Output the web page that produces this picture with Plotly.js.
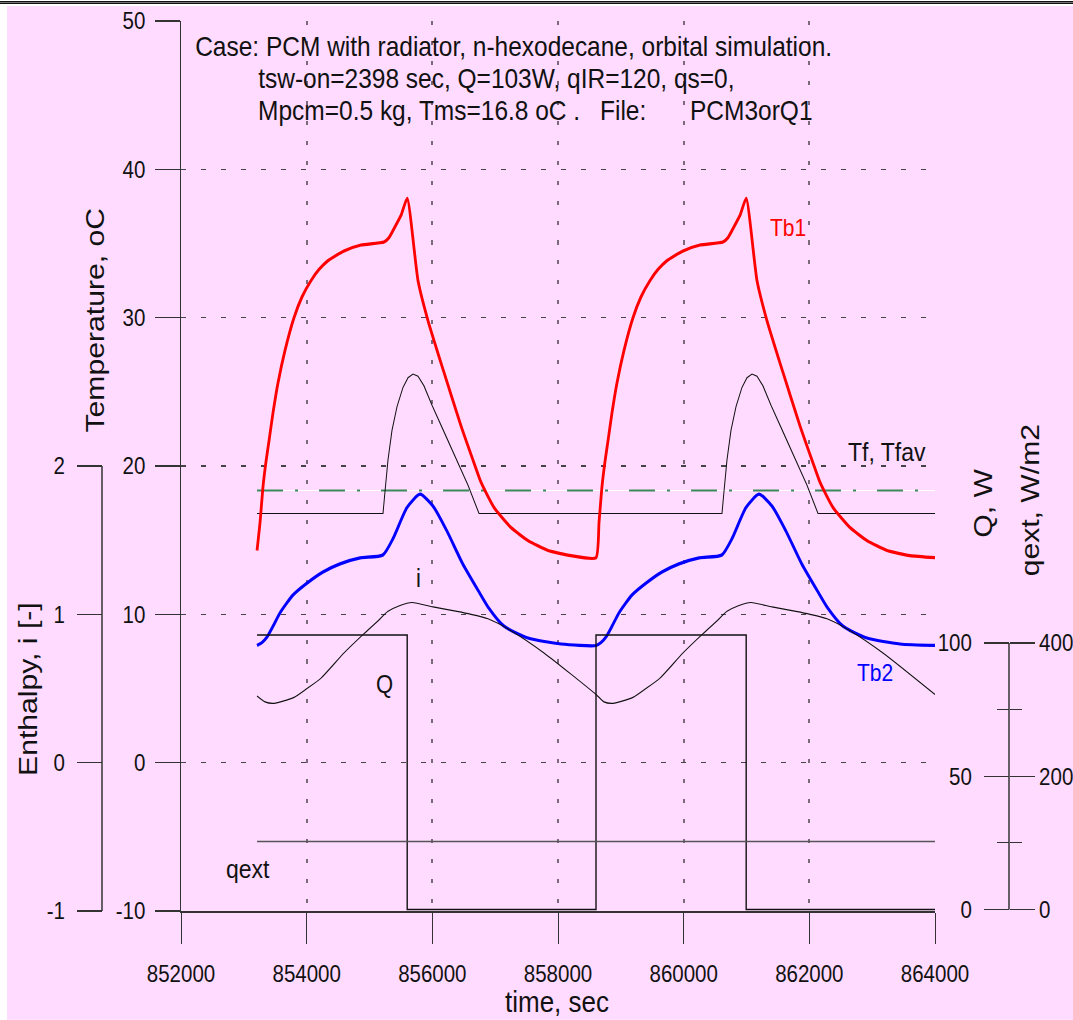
<!DOCTYPE html>
<html><head><meta charset="utf-8">
<script src="https://cdn.plot.ly/plotly-3.0.1.min.js"></script>
<style>
html,body{margin:0;padding:0;background:#fff;width:1073px;height:1020px;overflow:hidden}
#topline{position:absolute;left:0;top:1px;width:1073px;height:1px;background:#777;border-top:1px solid #111;border-bottom:1px solid #111;}
#chart{position:absolute;left:7px;top:6px;width:1066px;height:874px;transform:scaleY(1.16);transform-origin:0 0;}
</style></head><body>
<div id="topline"></div><div id="chart"></div>
<script>
// ---------------- data ----------------
const xTicks = [852000, 854000, 856000, 858000, 860000, 862000, 864000];
const tempTicks = [-10, 0, 10, 20, 30, 40, 50];
const enthTicks = [-1, 0, 1, 2];
const qTicks = [0, 50, 100];
const qextTicks = [0, 200, 400];

const tb1Time = [853210,853258,853305,853353,853401,853465,853544,853656,853799,853926,854069,854197,854340,854595,854865,855231,855311,855390,855502,855600,
  855772,855931,856186,856457,856664,856775,856982,857252,857523,857841,858207,858605,
  858653,858700,858748,858796,858860,858939,859051,859194,859321,859464,859592,859735,859990,860260,860626,860706,860785,860897,860995,
  861167,861326,861581,861852,862059,862170,862377,862647,862918,863236,863602,864000];
const tb1Temp = [14.3,16.2,18.6,20.3,21.7,23.6,25.6,27.8,30.0,31.4,32.5,33.25,33.85,34.5,34.9,35.1,35.4,36.0,36.9,38.05,
  32.5,29.8,26.3,22.7,20.2,18.9,17.2,15.85,14.97,14.3,13.96,13.82,
  16.2,18.6,20.3,21.7,23.6,25.6,27.8,30.0,31.4,32.5,33.25,33.85,34.5,34.9,35.1,35.4,36.0,36.9,38.05,
  32.5,29.8,26.3,22.7,20.2,18.9,17.2,15.85,14.97,14.3,13.96,13.82];

const tb2Time = [853210,853290,853369,853465,853576,853783,854006,854260,854531,854852,855213,855374,855597,855804,
  856011,856234,856484,856758,856886,857141,857523,858048,858605,
  858685,858764,858860,858971,859178,859401,859655,859926,860247,860608,860769,860992,861199,
  861406,861629,861879,862153,862281,862536,862918,863443,864000];
const tb2Temp = [7.9,8.1,8.47,9.2,10.1,11.3,12.1,12.85,13.4,13.8,14.0,15.1,17.2,18.1,
  17.3,15.6,13.4,11.4,10.5,9.2,8.4,8.0,7.9,
  8.1,8.47,9.2,10.1,11.3,12.1,12.85,13.4,13.8,14.0,15.1,17.2,18.1,
  17.3,15.6,13.4,11.4,10.5,9.2,8.4,8.0,7.9];

const tfTime = [853210,855215,855247,855294,855358,855438,855533,855613,855692,855772,855867,855995,856186,856377,856568,856743,
  860610,860642,860689,860753,860833,860928,861008,861087,861167,861262,861390,861581,861772,861963,862138,864000];
const tfTemp = [16.8,16.8,18.3,20.4,22.4,24.0,25.3,25.95,26.2,26.05,25.4,24.1,22.3,20.5,18.7,16.8,
  16.8,18.3,20.4,22.4,24.0,25.3,25.95,26.2,26.05,25.4,24.1,22.3,20.5,18.7,16.8,16.8];

const tfavTime = [853210, 864000];
const tfavTemp = [18.35, 18.35];

const enthTime = [853210,853337,853481,853799,854006,854229,854595,854913,855120,855295,855486,855677,
  856011,856393,856616,856886,857252,857777,858605,
  858732,858876,859194,859401,859624,859990,860308,860515,860690,860881,861072,
  861406,861788,862011,862281,862647,863172,864000];
const enthVal = [0.45,0.41,0.40,0.44,0.50,0.57,0.74,0.87,0.95,1.02,1.06,1.08,
  1.05,1.02,1.00,0.97,0.89,0.74,0.46,
  0.41,0.40,0.44,0.50,0.57,0.74,0.87,0.95,1.02,1.06,1.08,
  1.05,1.02,1.00,0.97,0.89,0.74,0.46];

const qTime = [853210, 855600, 858605, 860995, 864000];
const qVal = [103, 0, 103, 0, 0];

const qextTime = [853210, 864000];
const qextVal = [102, 102];

// ---------------- layout helpers ----------------
// the reference's lettering is drawn about 1.16 times taller than wide,
// so the whole chart is stretched vertically by that factor
const SY = 1.16;
const FR = '"Liberation Sans", Arial, sans-serif';
const W = 1066, H = 874, ML = 10, MR = 10, MT = 10, MB = 10;
const PW = W - ML - MR, PH = H - MT - MB;
function px(xp) { return (xp - 7 - ML) / PW; }
function py(yp) { return (H - MB - (yp - 6) / SY) / PH; }
const PINK = '#FFDCFF';
const AX = '#333333';
const Q_RANGE = [-0.56, 333.4];
const QEXT_RANGE = [-2.25, 1333.6];
const TICKF = {family: FR, size: 20.5, color: '#111'};

const traces = [
  {x: qextTime, y: qextVal, yaxis: 'y4', mode: 'lines', line: {color: '#555', width: 1.4}, hoverinfo: 'skip'},
  {x: qTime, y: qVal, yaxis: 'y3', mode: 'lines', line: {color: '#111', width: 1.4, shape: 'hv'}, hoverinfo: 'skip'},
  {x: tfavTime, y: tfavTemp, mode: 'lines', line: {color: '#ffffff', width: 1}, hoverinfo: 'skip'},
  {x: tfavTime, y: tfavTemp, mode: 'lines', line: {color: '#3c8a5c', width: 1.8, dash: '26px,12px,3px,21px'}, hoverinfo: 'skip'},
  {x: tfTime, y: tfTemp, mode: 'lines', line: {color: '#111', width: 1}, hoverinfo: 'skip'},
  {x: enthTime, y: enthVal, yaxis: 'y2', mode: 'lines', line: {color: '#111', width: 1, shape: 'spline', smoothing: 0.6}, hoverinfo: 'skip'},
  {x: tb2Time, y: tb2Temp, mode: 'lines', line: {color: '#0000ff', width: 2.8, shape: 'spline', smoothing: 0.6}, hoverinfo: 'skip'},
  {x: tb1Time, y: tb1Temp, mode: 'lines', line: {color: '#ff0000', width: 2.8, shape: 'spline', smoothing: 0.5}, hoverinfo: 'skip'}
];

function ann(text, xp, yp, opts) {
  return Object.assign({text: text, x: px(xp), y: py(yp), xref: 'paper', yref: 'paper',
    showarrow: false, xanchor: 'center', yanchor: 'middle', font: {family: FR, size: 22, color: '#111'}}, opts || {});
}
const TITLEF = {family: FR, size: 24.5, color: '#111'};
const AXTF = {family: FR, size: 26, color: '#111'};

const layout = {
  width: W, height: H,
  margin: {l: ML, r: MR, t: MT, b: MB},
  paper_bgcolor: PINK, plot_bgcolor: PINK,
  showlegend: false,
  xaxis: {
    domain: [px(181), px(935)], range: [852000, 864000], anchor: 'y',
    tickmode: 'array', tickvals: xTicks, ticktext: xTicks.map(String),
    ticks: 'outside', ticklen: 26.7, tickcolor: AX, tickwidth: 1,
    showline: true, linecolor: AX, linewidth: 1.5,
    showgrid: true, gridcolor: '#7a6a7a', gridwidth: 2, griddash: '3.5px,13.7px',
    zeroline: false, tickfont: TICKF, ticklabelstandoff: 8
  },
  yaxis: {
    domain: [py(911), py(21)], range: [-10, 50], anchor: 'x',
    tickmode: 'array', tickvals: tempTicks, ticktext: tempTicks.map(String),
    ticks: 'outside', ticklen: 25, tickcolor: AX, tickwidth: 1,
    showline: true, linecolor: AX, linewidth: 1.5,
    showgrid: true, gridcolor: '#444', gridwidth: 1, griddash: '5px,15px',
    zeroline: false, tickfont: TICKF, ticklabelstandoff: 5
  },
  yaxis2: {
    overlaying: 'y', anchor: 'free', position: px(102), side: 'left', range: [-1, 5],
    tickmode: 'array', tickvals: enthTicks, ticktext: enthTicks.map(String),
    ticks: 'outside', ticklen: 25, tickcolor: AX, tickwidth: 1,
    showline: false, showgrid: false, zeroline: false,
    tickfont: TICKF, ticklabelstandoff: 8
  },
  yaxis3: {
    overlaying: 'y', anchor: 'free', position: px(1009), side: 'left', range: Q_RANGE,
    tickmode: 'array', tickvals: qTicks, ticktext: qTicks.map(String),
    ticks: 'outside', ticklen: 25, tickcolor: AX, tickwidth: 1,
    minor: {tickmode: 'array', tickvals: [25, 75], ticks: 'outside', ticklen: 12, tickcolor: AX, tickwidth: 1, showgrid: false},
    showline: false, showgrid: false, zeroline: false,
    tickfont: TICKF, ticklabelstandoff: 8
  },
  yaxis4: {
    overlaying: 'y', anchor: 'free', position: px(1009), side: 'right', range: QEXT_RANGE,
    tickmode: 'array', tickvals: qextTicks, ticktext: qextTicks.map(String),
    ticks: 'outside', ticklen: 25, tickcolor: AX, tickwidth: 1,
    minor: {tickmode: 'array', tickvals: [100, 300], ticks: 'outside', ticklen: 12, tickcolor: AX, tickwidth: 1, showgrid: false},
    showline: false, showgrid: false, zeroline: false,
    tickfont: TICKF, ticklabelstandoff: 0
  },
  shapes: [
    {type: 'line', xref: 'paper', yref: 'y2', x0: px(102), x1: px(102), y0: -1, y1: 2, line: {color: AX, width: 1.5}},
    {type: 'line', xref: 'paper', yref: 'y3', x0: px(1009), x1: px(1009), y0: 0, y1: 100, line: {color: AX, width: 1.5}}
  ],
  annotations: [
    ann('Case: PCM with radiator, n-hexodecane, orbital simulation.', 193, 46, {xanchor: 'left', font: TITLEF}),
    ann('tsw-on=2398 sec, Q=103W, qIR=120, qs=0,', 256, 78, {xanchor: 'left', font: TITLEF}),
    ann('Mpcm=0.5 kg, Tms=16.8 oC .', 256, 110, {xanchor: 'left', font: TITLEF}),
    ann('File:', 598, 110, {xanchor: 'left', font: TITLEF}),
    ann('PCM3orQ1', 688, 110, {xanchor: 'left', font: TITLEF}),
    ann('Tb1', 788, 227, {font: {family: FR, size: 21, color: '#ff0000'}}),
    ann('Tf, Tfav', 887, 452, {font: {family: FR, size: 23, color: '#111'}}),
    ann('i', 419, 578),
    ann('Q', 384, 684),
    ann('Tb2', 875, 672, {font: {family: FR, size: 21, color: '#0000ff'}}),
    ann('qext', 248, 869, {font: {family: FR, size: 23, color: '#111'}}),
    ann('Temperature, oC', 95, 320, {textangle: -90, font: AXTF}),
    ann('Enthalpy, i [-]', 28, 689, {textangle: -90, font: AXTF}),
    ann('Q, W', 983, 503, {textangle: -90, font: AXTF}),
    ann('qext, W/m2', 1030, 501, {textangle: -90, font: AXTF}),
    ann('time, sec', 557, 1001, {font: AXTF})
  ]
};

Plotly.newPlot('chart', traces, layout, {staticPlot: true, displayModeBar: false});
</script></body></html>
